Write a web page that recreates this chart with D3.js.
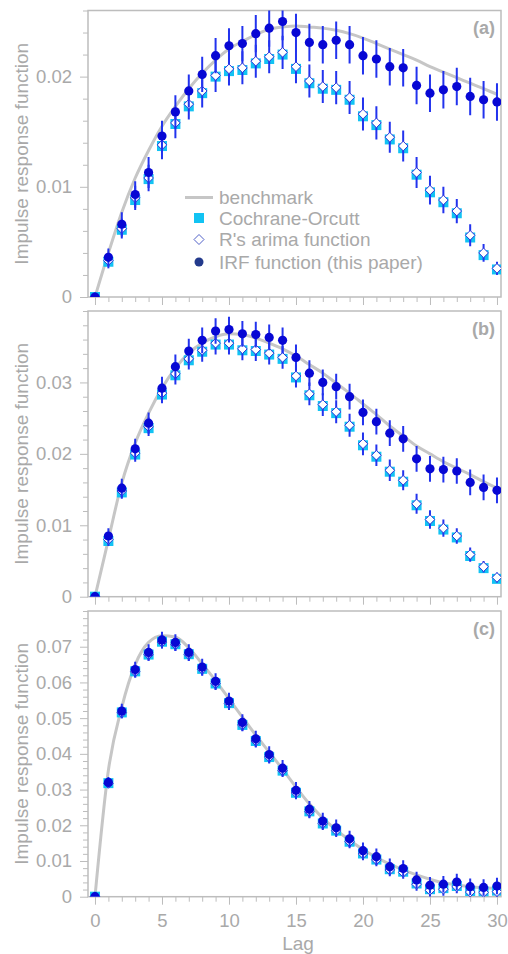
<!DOCTYPE html>
<html><head><meta charset="utf-8">
<script src="https://cdn.jsdelivr.net/npm/d3@7"></script>
<style>body{margin:0;background:#fff}svg{display:block;font-family:"Liberation Sans",Arial,sans-serif}</style>
</head><body><svg id="c" width="508" height="954"></svg>
<script>
const lags = [0,1,2,3,4,5,6,7,8,9,10,11,12,13,14,15,16,17,18,19,20,21,22,23,24,25,26,27,28,29,30];
const xTicks = [0,5,10,15,20,25,30];
const legendLabels = ["benchmark","Cochrane-Orcutt","R's arima function","IRF function (this paper)"];
const panelLabels = ["(a)","(b)","(c)"];

// Panel (a)
const benchA = [0,0.0040,0.0077,0.0108,0.0133,0.0155,0.0173,0.0189,0.0203,0.0215,0.0225,0.0232,0.0238,0.0243,0.0245,0.0246,0.0245,0.0244,0.0242,0.0239,0.0235,0.0230,0.0225,0.0220,0.0215,0.0209,0.0204,0.0199,0.0194,0.0189,0.0184];
const coA = [0,0.0032,0.0061,0.0088,0.0107,0.0137,0.0157,0.0173,0.0185,0.0200,0.0205,0.0206,0.0212,0.0216,0.0220,0.0207,0.0194,0.0189,0.0188,0.0179,0.0164,0.0156,0.0143,0.0135,0.0111,0.0095,0.0086,0.0076,0.0054,0.0038,0.0025];
const arimaA = [0,0.0033,0.0062,0.0090,0.0108,0.0138,0.0158,0.0175,0.0187,0.0201,0.0207,0.0208,0.0214,0.0218,0.0222,0.0209,0.0196,0.0191,0.0190,0.0181,0.0166,0.0158,0.0145,0.0137,0.0113,0.0097,0.0088,0.0078,0.0056,0.0040,0.0026];
const arimaErrA = [0,0.0007,0.0009,0.0011,0.0012,0.0013,0.0014,0.0014,0.0015,0.0015,0.0015,0.0015,0.0015,0.0015,0.0015,0.0015,0.0015,0.0015,0.0015,0.0015,0.0015,0.0015,0.0014,0.0014,0.0014,0.0013,0.0012,0.0011,0.0010,0.0008,0.0006];
const irfA = [0,0.0036,0.0066,0.0093,0.0113,0.0146,0.0168,0.0187,0.0202,0.0219,0.0228,0.0230,0.0239,0.0244,0.0250,0.0240,0.0231,0.0229,0.0233,0.0229,0.0219,0.0216,0.0209,0.0208,0.0192,0.0185,0.0188,0.0191,0.0182,0.0179,0.0177];
const irfErrA = [0,0.0008,0.0011,0.0012,0.0014,0.0014,0.0015,0.0015,0.0016,0.0016,0.0016,0.0016,0.0017,0.0017,0.0017,0.0017,0.0017,0.0017,0.0017,0.0017,0.0017,0.0017,0.0017,0.0017,0.0017,0.0017,0.0017,0.0017,0.0017,0.0017,0.0017];

// Panel (b)
const benchB = [0,0.0080,0.0159,0.0215,0.0257,0.0292,0.0320,0.0341,0.0355,0.0364,0.0368,0.0367,0.0362,0.0355,0.0347,0.0337,0.0325,0.0313,0.0299,0.0285,0.0270,0.0255,0.0239,0.0225,0.0211,0.0200,0.0189,0.0180,0.0171,0.0161,0.0152];
const coB = [0,0.0078,0.0146,0.0199,0.0236,0.0283,0.0310,0.0331,0.0343,0.0353,0.0353,0.0345,0.0344,0.0339,0.0333,0.0307,0.0282,0.0267,0.0257,0.0238,0.0212,0.0196,0.0175,0.0161,0.0128,0.0106,0.0094,0.0083,0.0057,0.0040,0.0025];
const arimaB = [0,0.0080,0.0148,0.0201,0.0238,0.0285,0.0312,0.0333,0.0345,0.0355,0.0355,0.0347,0.0346,0.0341,0.0335,0.0309,0.0284,0.0269,0.0259,0.0240,0.0214,0.0198,0.0177,0.0163,0.0130,0.0108,0.0096,0.0085,0.0059,0.0042,0.0027];
const arimaErrB = [0,0.0009,0.0011,0.0012,0.0013,0.0014,0.0015,0.0015,0.0016,0.0016,0.0016,0.0016,0.0016,0.0016,0.0016,0.0016,0.0016,0.0016,0.0016,0.0016,0.0016,0.0015,0.0015,0.0014,0.0014,0.0013,0.0012,0.0011,0.0010,0.0008,0.0007];
const irfB = [0,0.0085,0.0152,0.0207,0.0243,0.0292,0.0322,0.0344,0.0359,0.0372,0.0374,0.0368,0.0367,0.0363,0.0359,0.0335,0.0313,0.0300,0.0294,0.0280,0.0258,0.0245,0.0229,0.0221,0.0193,0.0179,0.0178,0.0176,0.0160,0.0153,0.0149];
const irfErrB = [0,0.0011,0.0013,0.0014,0.0015,0.0016,0.0017,0.0017,0.0018,0.0018,0.0018,0.0018,0.0018,0.0018,0.0018,0.0018,0.0018,0.0018,0.0018,0.0018,0.0018,0.0018,0.0018,0.0018,0.0018,0.0018,0.0018,0.0018,0.0018,0.0018,0.0018];

// Panel (c)
const benchC = [0,0.0354,0.0531,0.0650,0.0712,0.0731,0.0727,0.0697,0.0652,0.0605,0.0554,0.0503,0.0452,0.0405,0.0357,0.0307,0.0260,0.0220,0.0187,0.0158,0.0132,0.0110,0.0091,0.0075,0.0061,0.0049,0.0039,0.0033,0.0028,0.0025,0.0023];
const coC = [0,0.0318,0.0516,0.0631,0.0678,0.0714,0.0707,0.0679,0.0638,0.0597,0.0542,0.0481,0.0436,0.0391,0.0353,0.0291,0.0239,0.0205,0.0185,0.0154,0.0121,0.0104,0.0077,0.0070,0.0037,0.0021,0.0024,0.0030,0.0016,0.0015,0.0017];
const arimaC = [0,0.0317,0.0515,0.0630,0.0678,0.0713,0.0706,0.0678,0.0637,0.0597,0.0541,0.0481,0.0436,0.0391,0.0353,0.0291,0.0238,0.0205,0.0185,0.0154,0.0120,0.0103,0.0075,0.0068,0.0035,0.0018,0.0021,0.0028,0.0013,0.0012,0.0014];
const arimaErrC = [0,0.0012,0.0015,0.0016,0.0017,0.0018,0.0018,0.0018,0.0018,0.0018,0.0018,0.0018,0.0018,0.0018,0.0018,0.0018,0.0018,0.0018,0.0018,0.0018,0.0018,0.0018,0.0018,0.0018,0.0018,0.0018,0.0018,0.0018,0.0018,0.0018,0.0018];
const irfC = [0,0.0320,0.0520,0.0636,0.0684,0.0719,0.0712,0.0684,0.0643,0.0603,0.0548,0.0488,0.0442,0.0398,0.0360,0.0298,0.0245,0.0212,0.0193,0.0162,0.0129,0.0112,0.0084,0.0079,0.0047,0.0032,0.0035,0.0041,0.0028,0.0026,0.0030];
const irfErrC = [0,0.0015,0.0020,0.0022,0.0023,0.0023,0.0023,0.0023,0.0023,0.0023,0.0023,0.0023,0.0023,0.0023,0.0023,0.0023,0.0023,0.0023,0.0023,0.0023,0.0023,0.0023,0.0023,0.0023,0.0023,0.0023,0.0023,0.0023,0.0023,0.0023,0.0023];

const yMax = [0.026, 0.04, 0.08];
const yMajor = [[0,0.01,0.02],[0,0.01,0.02,0.03],[0,0.01,0.02,0.03,0.04,0.05,0.06,0.07]];

const panels = [
  {bench:benchA, co:coA, arima:arimaA, arimaErr:arimaErrA, irf:irfA, irfErr:irfErrA, top:10.5, bottom:297, max:yMax[0], major:yMajor[0], label:panelLabels[0], legend:true},
  {bench:benchB, co:coB, arima:arimaB, arimaErr:arimaErrB, irf:irfB, irfErr:irfErrB, top:311, bottom:596.7, max:yMax[1], major:yMajor[1], label:panelLabels[1]},
  {bench:benchC, co:coC, arima:arimaC, arimaErr:arimaErrC, irf:irfC, irfErr:irfErrC, top:611, bottom:896.7, max:yMax[2], major:yMajor[2], label:panelLabels[2], xlabels:true}
];

const L = 88, R = 501;
const gray = "#bdbdbd", txt = "#a9a9a9";
const cCyan = "#12c3f3", cDia = "#2c36d8", cBar = "#2233ee", cIrf = "#0707d4", cBench = "#c6c6c6";
const svg = d3.select("#c");
const x = d3.scaleLinear().domain([-0.522, 30.3]).range([L, R]);
const fmt = d => d === 0 ? "0" : d3.format(".2f")(d);

panels.forEach((p, pi) => {
  const y = d3.scaleLinear().domain([0, p.max]).range([p.bottom, p.top]);
  const g = svg.append("g");
  const clipId = "clip" + pi;
  svg.append("clipPath").attr("id", clipId).append("rect")
    .attr("x", L).attr("y", p.top).attr("width", R - L).attr("height", p.bottom - p.top);

  const minor = d3.range(0, p.max + 1e-9, 0.002).filter(v => !p.major.some(m => Math.abs(m - v) < 1e-9));
  g.append("g").attr("transform", `translate(${L},0)`)
    .call(d3.axisLeft(y).tickValues(minor).tickSize(5).tickFormat(""))
    .call(a => a.select(".domain").remove())
    .call(a => a.selectAll("line").attr("stroke", gray));
  g.append("g").attr("transform", `translate(${L},0)`)
    .call(d3.axisLeft(y).tickValues(p.major).tickSize(8).tickPadding(8).tickFormat(fmt))
    .call(a => a.select(".domain").remove())
    .call(a => a.selectAll("line").attr("stroke", gray))
    .call(a => a.selectAll("text").attr("fill", txt).style("font-size", "18.5px").attr("font-family", "Liberation Sans, Arial, sans-serif"));

  const xMinor = lags.filter(v => xTicks.indexOf(v) < 0);
  g.append("g").attr("transform", `translate(0,${p.bottom})`)
    .call(d3.axisBottom(x).tickValues(xMinor).tickSize(5).tickFormat(""))
    .call(a => a.select(".domain").remove())
    .call(a => a.selectAll("line").attr("stroke", gray));
  g.append("g").attr("transform", `translate(0,${p.bottom})`)
    .call(d3.axisBottom(x).tickValues(xTicks).tickSize(8).tickPadding(9).tickFormat(p.xlabels ? d3.format("d") : ""))
    .call(a => a.select(".domain").remove())
    .call(a => a.selectAll("line").attr("stroke", gray))
    .call(a => a.selectAll("text").attr("fill", txt).style("font-size", "18.5px").attr("font-family", "Liberation Sans, Arial, sans-serif"));

  g.append("rect").attr("x", L).attr("y", p.top).attr("width", R - L).attr("height", p.bottom - p.top)
    .attr("fill", "none").attr("stroke", gray).attr("stroke-width", 1.5);

  g.append("text").attr("transform", `translate(28,${(p.top + p.bottom) / 2}) rotate(-90)`)
    .attr("text-anchor", "middle").attr("fill", txt).style("font-size", "19px")
    .text("Impulse response function");

  const plot = g.append("g").attr("clip-path", `url(#${clipId})`);
  plot.append("path").datum(lags)
    .attr("d", d3.line().x(d => x(d)).y((d, i) => y(p.bench[i])).curve(d3.curveMonotoneX))
    .attr("fill", "none").attr("stroke", cBench).attr("stroke-width", 3);
  plot.selectAll(".sq").data(lags).join("rect")
    .attr("x", d => x(d) - 5).attr("y", (d, i) => y(p.co[i]) - 5)
    .attr("width", 10).attr("height", 10).attr("fill", cCyan);
  plot.selectAll(".eb1").data(lags).join("line")
    .attr("x1", d => x(d)).attr("x2", d => x(d))
    .attr("y1", (d, i) => y(p.arima[i] - p.arimaErr[i])).attr("y2", (d, i) => y(p.arima[i] + p.arimaErr[i]))
    .attr("stroke", cBar).attr("stroke-width", 2);
  plot.selectAll(".dm").data(lags).join("path")
    .attr("d", (d, i) => { const cx = x(d), cy = y(p.arima[i]), s = 4.8; return `M${cx},${cy - s}L${cx + s},${cy}L${cx},${cy + s}L${cx - s},${cy}Z`; })
    .attr("fill", "#fff").attr("stroke", cDia).attr("stroke-width", 1);
  plot.selectAll(".eb2").data(lags).join("line")
    .attr("x1", d => x(d)).attr("x2", d => x(d))
    .attr("y1", (d, i) => y(p.irf[i] - p.irfErr[i])).attr("y2", (d, i) => y(p.irf[i] + p.irfErr[i]))
    .attr("stroke", cBar).attr("stroke-width", 2);
  plot.selectAll(".ci").data(lags).join("circle")
    .attr("cx", d => x(d)).attr("cy", (d, i) => y(p.irf[i])).attr("r", 4.6).attr("fill", cIrf);

  g.append("text").attr("x", 495).attr("y", p.top + 23.5).attr("text-anchor", "end")
    .attr("fill", txt).attr("font-weight", "bold").style("font-size", "18px").text(p.label);

  if (p.legend) {
    const lx = 199, rows = [197.5, 218, 239.5, 262];
    const lg = g.append("g");
    lg.append("line").attr("x1", 185).attr("x2", 213).attr("y1", rows[0]).attr("y2", rows[0])
      .attr("stroke", cBench).attr("stroke-width", 3);
    lg.append("rect").attr("x", lx - 5).attr("y", rows[1] - 5).attr("width", 10).attr("height", 10).attr("fill", cCyan);
    lg.append("path").attr("d", `M${lx},${rows[2] - 5}L${lx + 5},${rows[2]}L${lx},${rows[2] + 5}L${lx - 5},${rows[2]}Z`)
      .attr("fill", "#fff").attr("stroke", "#5060c8").attr("stroke-width", 1);
    lg.append("circle").attr("cx", lx).attr("cy", rows[3]).attr("r", 4.5).attr("fill", "#233a8c");
    legendLabels.forEach((t, i) => {
      lg.append("text").attr("x", 219).attr("y", rows[i]).attr("dy", "0.35em")
        .attr("fill", txt).style("font-size", "19px").text(t);
    });
  }
});

svg.append("text").attr("x", 298).attr("y", 950).attr("text-anchor", "middle")
  .attr("fill", txt).style("font-size", "19px").text("Lag");
</script></body></html>
